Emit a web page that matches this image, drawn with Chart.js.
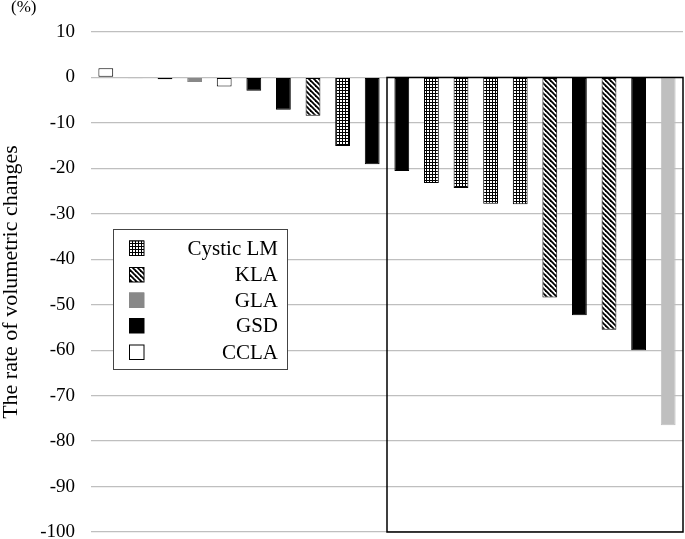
<!DOCTYPE html>
<html>
<head>
<meta charset="utf-8">
<script src="https://cdn.jsdelivr.net/npm/chart.js@4"></script>
<style>
html,body{margin:0;padding:0;background:#fff;}
#wrap{position:relative;width:685px;height:539px;}
</style>
</head>
<body>
<div id="wrap"><canvas id="c" width="685" height="539"></canvas></div>
<script>
const categories = ['1','2','3','4','5','6','7','8','9','10','11','12','13','14','15','16','17','18','19','20'];
const values = [2.0, -0.2, -0.4, -1.0, -2.0, -2.9, -7.1, -8.4, -15.1, -19.1, -20.6, -23.2, -24.3, -27.8, -27.9, -48.4, -52.3, -55.5, -60.0, -76.5];
const types = ['CCLA','GLA','GSD','GLA','CCLA','GSD','GSD','KLA','Cystic LM','GSD','GSD','Cystic LM','Cystic LM','Cystic LM','Cystic LM','KLA','GSD','KLA','GSD','Other'];
const legendLabels = ['Cystic LM','KLA','GLA','GSD','CCLA'];
const yTicks = [10,0,-10,-20,-30,-40,-50,-60,-70,-80,-90,-100];
const boxStartIndex = 10;

function makeGrid(){
  const c=document.createElement('canvas');c.width=3;c.height=3;
  const g=c.getContext('2d');
  g.fillStyle='#fff';g.fillRect(0,0,3,3);
  g.fillStyle='#000';g.fillRect(0,0,3,1);g.fillRect(0,0,1,3);
  return g.createPattern(c,'repeat');
}
function makeDiag(){
  const s=5;
  const c=document.createElement('canvas');c.width=s;c.height=s;
  const g=c.getContext('2d');
  g.fillStyle='#fff';g.fillRect(0,0,s,s);
  g.strokeStyle='#000';g.lineWidth=1.8;
  for(let k=-1;k<=1;k++){
    g.beginPath();g.moveTo(k*s-1,-1);g.lineTo(k*s+s+1,s+1);g.stroke();
  }
  return g.createPattern(c,'repeat');
}
const gridPat = makeGrid();
const diagPat = makeDiag();
const fills = {'Cystic LM':gridPat,'KLA':diagPat,'GLA':'#888888','GSD':'#000000','CCLA':'#ffffff','Other':'#bfbfbf'};
const borders = {'Cystic LM':'#000','KLA':'#000','GLA':'#888888','GSD':'#000','CCLA':'#000','Other':'#bfbfbf'};

const extras = {
  id:'extras',
  afterDraw(chart){
    const ctx=chart.ctx, x=chart.scales.x, y=chart.scales.y;
    ctx.save();
    const half=(x.getPixelForValue(1)-x.getPixelForValue(0))/2;
    const bx=x.getPixelForValue(boxStartIndex)-half;
    const by0=y.getPixelForValue(0), by1=y.getPixelForValue(-100);
    ctx.strokeStyle='#000';ctx.lineWidth=1.5;
    ctx.strokeRect(bx,by0,chart.chartArea.right-bx,by1-by0);
    ctx.fillStyle='#000';ctx.font='17px "Liberation Serif"';
    ctx.textAlign='left';ctx.textBaseline='middle';
    ctx.fillText('(%)',11,8);
    const lx=113, ly=229, lw=174, lh=140;
    ctx.fillStyle='#fff';ctx.fillRect(lx,ly,lw,lh);
    ctx.strokeStyle='#444';ctx.lineWidth=1;ctx.strokeRect(lx+0.5,ly+0.5,lw,lh);
    const rows=[248,274.5,300,325.5,352];
    ctx.font='21px "Liberation Serif"';ctx.textAlign='right';
    legendLabels.forEach((lab,i)=>{
      const cy=rows[i];
      ctx.fillStyle=fills[lab];
      ctx.fillRect(129,cy-7.5,15,15);
      ctx.strokeStyle=(lab==='GLA')?'#888':'#000';ctx.lineWidth=1;
      ctx.strokeRect(129.5,cy-7,14.5,14.5);
      ctx.fillStyle='#000';
      ctx.fillText(lab,278,cy+1);
    });
    ctx.restore();
  }
};

new Chart(document.getElementById('c'),{
  type:'bar',
  data:{labels:categories,datasets:[{
    data:values,
    backgroundColor:types.map(t=>fills[t]),
    borderColor:types.map(t=>borders[t]),
    borderWidth:1,
    borderSkipped:false,
    barPercentage:0.5,
    categoryPercentage:1.0
  }]},
  options:{
    responsive:false,animation:false,
    layout:{padding:{top:32,bottom:7,right:2,left:0}},
    plugins:{legend:{display:false},tooltip:{enabled:false}},
    scales:{
      x:{display:false},
      y:{
        min:-100,max:10,
        afterBuildTicks(s){s.ticks=yTicks.map(v=>({value:v}));},
        afterFit(s){s.width=91;s.paddingBottom=0;s.paddingTop=0;},
        grid:{color:'#bfbfbf',lineWidth:1.3,drawTicks:false},
        border:{display:false},
        ticks:{padding:16,color:'#000',font:{family:'"Liberation Serif"',size:19}},
        title:{display:true,text:'The rate of volumetric changes',color:'#000',font:{family:'"Liberation Serif"',size:22},padding:{top:-2,bottom:0}}
      }
    }
  },
  plugins:[extras]
});
</script>
</body>
</html>
